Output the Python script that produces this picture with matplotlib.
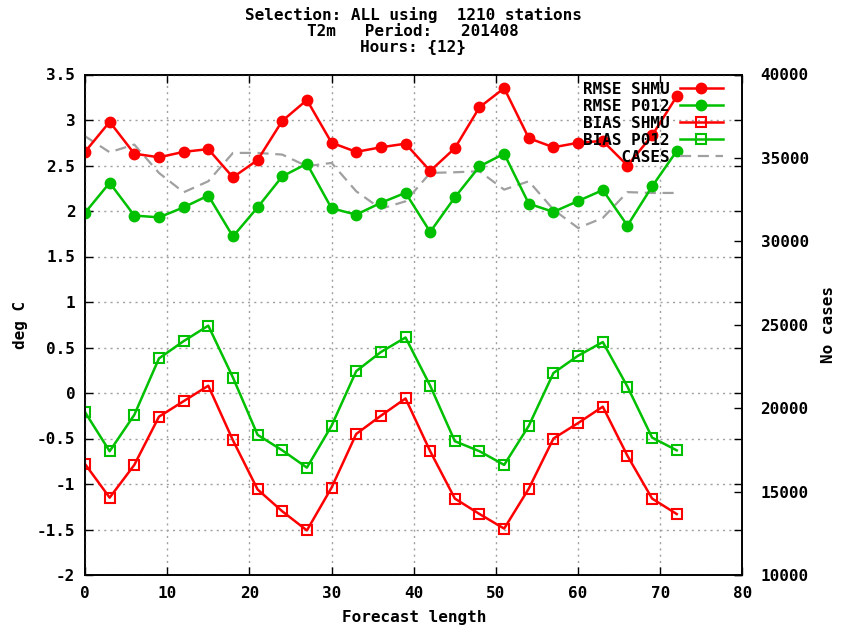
import matplotlib
matplotlib.use('Agg')
import matplotlib.pyplot as plt

# -----------------------------------------------------
# Data
# -----------------------------------------------------

fc_length = [0, 3, 6, 9, 12, 15, 18, 21, 24, 27, 30, 33, 36,
             39, 42, 45, 48, 51, 54, 57, 60, 63, 66, 69, 72]

rmse_shmu = [2.65, 2.98, 2.63, 2.59, 2.65, 2.68, 2.37, 2.56, 2.99, 3.22,
             2.75, 2.65, 2.70, 2.74, 2.44, 2.69, 3.14, 3.35, 2.80, 2.70,
             2.75, 2.77, 2.50, 2.83, 3.26]

rmse_p012 = [1.98, 2.31, 1.95, 1.93, 2.04, 2.17, 1.72, 2.04, 2.38, 2.52,
             2.03, 1.96, 2.09, 2.20, 1.77, 2.15, 2.49, 2.63, 2.08, 1.99,
             2.11, 2.23, 1.84, 2.27, 2.66]

bias_shmu = [-0.78, -1.15, -0.79, -0.26, -0.09, 0.08, -0.52, -1.06, -1.30, -1.51,
             -1.04, -0.45, -0.25, -0.06, -0.64, -1.16, -1.33, -1.49, -1.05, -0.50,
             -0.33, -0.15, -0.69, -1.16, -1.33]

bias_p012 = [-0.21, -0.64, -0.24, 0.38, 0.57, 0.74, 0.17, -0.46, -0.63, -0.82,
             -0.36, 0.24, 0.45, 0.61, 0.08, -0.53, -0.64, -0.79, -0.36, 0.22,
             0.41, 0.56, 0.07, -0.49, -0.63]

cases = [36300, 35340, 35800, 34100, 32940, 33600, 35300, 35300, 35200, 34500,
         34700, 33000, 31950, 32400, 34100, 34140, 34200, 33100, 33600, 31900,
         30800, 31400, 32950, 32900, 32900]

x_ticks = [0, 10, 20, 30, 40, 50, 60, 70, 80]
y_ticks = [-2, -1.5, -1, -0.5, 0, 0.5, 1, 1.5, 2, 2.5, 3, 3.5]
y_tick_labels = ['-2', '-1.5', '-1', '-0.5', '0', '0.5', '1', '1.5',
                 '2', '2.5', '3', '3.5']
y2_ticks = [10000, 15000, 20000, 25000, 30000, 35000, 40000]

# -----------------------------------------------------
# Style
# -----------------------------------------------------

plt.rcParams['font.family'] = ['DejaVu Sans Mono']
plt.rcParams['font.weight'] = 'bold'
plt.rcParams['axes.labelweight'] = 'bold'
plt.rcParams['font.size'] = 11.5

RED = '#ff0000'
GREEN = '#00c000'
GREY = '#a0a0a0'

fig = plt.figure(figsize=(8.45, 6.3), dpi=100)
ax = fig.add_axes([85 / 845, 1 - 575 / 630, 657.5 / 845, 500.5 / 630])
ax2 = ax.twinx()

# cases behind the main lines
ax.set_zorder(ax2.get_zorder() + 1)
ax.patch.set_visible(False)

# -----------------------------------------------------
# Lines
# -----------------------------------------------------

l_cases, = ax2.plot(fc_length, cases, color=GREY, linewidth=1.6,
                    dashes=(5, 3), label='    CASES')

l1, = ax.plot(fc_length, rmse_shmu, '-o', color=RED, linewidth=1.8,
              markersize=7.5, label='RMSE SHMU')
l2, = ax.plot(fc_length, rmse_p012, '-o', color=GREEN, linewidth=1.8,
              markersize=7.5, label='RMSE P012')
l3, = ax.plot(fc_length, bias_shmu, '-s', color=RED, linewidth=1.8,
              markersize=7, markerfacecolor='none', markeredgewidth=1.5,
              label='BIAS SHMU')
l4, = ax.plot(fc_length, bias_p012, '-s', color=GREEN, linewidth=1.8,
              markersize=7, markerfacecolor='none', markeredgewidth=1.5,
              label='BIAS P012')

# -----------------------------------------------------
# Axes
# -----------------------------------------------------

ax.set_xlim(0, 80)
ax.set_ylim(-2, 3.5)
ax2.set_ylim(10000, 40000)

ax.set_xticks(x_ticks)
ax.set_yticks(y_ticks)
ax.set_yticklabels(y_tick_labels)
ax2.set_yticks(y2_ticks)

ax.grid(True, color=GREY, linestyle=(0, (1.5, 3)), linewidth=1)

ax.tick_params(direction='in', length=6, width=1, top=True, right=True)
ax.tick_params(axis='y', pad=7)
ax.tick_params(axis='x', pad=8)
ax2.tick_params(direction='in', length=6, width=1, pad=13)

for a in (ax, ax2):
    for s in a.spines.values():
        s.set_linewidth(1.2)

ax.set_xlabel('Forecast length')
ax.set_ylabel('deg C')
ax2.set_ylabel('No cases')
ax.xaxis.set_label_coords(0.5, -0.07)
ax.yaxis.set_label_coords(-0.087, 0.5)
ax2.yaxis.set_label_coords(1.119, 0.5)

fig.text(413 / 845, 1 - 31 / 630,
         'Selection: ALL using  1210 stations\n'
         'T2m   Period:   201408\n'
         'Hours: {12}',
         ha='center', va='center', linespacing=1.05)

ax.legend(handles=[l1, l2, l3, l4, l_cases], loc='upper right',
          bbox_to_anchor=(0.97, 0.986), frameon=False, markerfirst=False,
          numpoints=1, handlelength=2.7, handletextpad=0.6,
          labelspacing=0.13, borderpad=0, borderaxespad=0)

plt.savefig('out.png', dpi=100)
